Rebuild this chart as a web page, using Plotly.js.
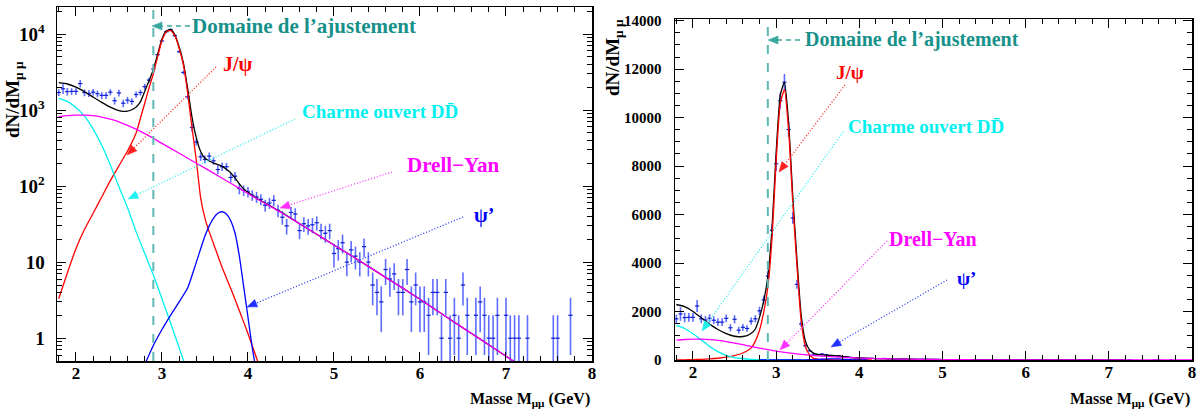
<!DOCTYPE html>
<html><head><meta charset="utf-8">
<script src="https://cdn.plot.ly/plotly-3.0.1.min.js"></script>
<style>html,body{margin:0;padding:0;background:#fff}</style>
</head><body><div id="c" style="width:1199px;height:414px"></div>
<script>
// ---------- data ----------
const dataX = [1.80,1.85,1.90,1.95,2.00,2.05,2.10,2.15,2.20,2.25,2.30,2.35,2.40,2.45,2.50,2.55,2.60,2.65,2.70,2.75,
  2.80,2.85,2.90,2.95,3.00,3.05,3.10,3.15,3.20,3.25,3.30,3.35,3.40,3.45,3.50,3.55,3.60,3.65,3.70,3.75,
  3.80,3.85,3.90,3.95,4.00,4.05,4.10,4.15,4.20,4.25,4.30,4.35,4.40,4.45,4.50,4.55,4.60,4.65,4.70,4.75,
  4.80,4.85,4.90,4.95,5.00,5.05,5.10,5.15,5.20,5.25,5.30,5.35,5.40,5.45,5.50,5.55,5.60,5.65,5.70,5.75,
  5.80,5.85,5.90,5.95,6.00,6.05,6.10,6.15,6.20,6.25,6.30,6.35,6.40,6.45,6.50,6.55,6.65,6.70,6.75,6.80,
  6.85,6.90,7.00,7.05,7.10,7.15,7.25,7.55,7.60,7.75];
const dataY = [1700,1900,1750,1760,1760,2230,1700,1650,1720,1640,1560,1560,1720,1330,1680,1230,1350,1300,1600,1700,
  2030,2480,3460,5350,8100,10700,11460,9510,5860,3120,1490,590,380,243,225,248,215,165,180,180,
  130,135,93,88,84,76,72,67,56,60,65,48,39,30,45,43,26,32,30,31,
  33,26,24,26,13,15,18,10,14.5,12,10,16,10,5,4,3,8,6,7,4,
  4,8,3,5,3,3,2,4,4,1,4,1,2,1,5,2,2,3,2,1,
  1,2,2,1,1,1,1,1,1,2];
const dataErr = [170,280,200,180,180,250,180,170,170,160,160,160,160,150,170,140,140,130,150,150,
  170,180,200,240,300,330,340,310,240,180,120,70,40,28,27,28,25,22,22,22,
  18,18,15,14,13,12,12,11,10,10,11,9,8,7,8,8,6,7,7,7,
  7,6,6,6,4.5,4.5,5,3.5,4.5,4,3.5,4.5,3.5,2.3,2,1.8,3,2.5,2.7,2,
  2,3,1.8,2.3,1.8,1.8,1.4,2,2,1,2,1,1.4,1,2.3,1.4,1.4,1.8,1.4,1,
  1,1.4,1.4,1,1,1,1,1,1,1.4];

const totX = [1.8,1.9,2.0,2.1,2.2,2.3,2.4,2.5,2.55,2.6,2.65,2.7,2.75,2.8,2.85,2.9,2.95,3.0,3.05,3.1,3.15,3.2,3.25,3.3,3.35,
  3.4,3.45,3.5,3.55,3.6,3.65,3.7,3.75,3.8,3.85,3.9,3.95,4.0,4.1,4.2,4.4,4.6,4.8,5.0,5.2,5.4,5.6,5.8,6.0,6.2,6.4,6.6,6.8,7.0,7.2];
const totY = [2290,2200,2000,1740,1480,1260,1090,980,960,970,1010,1100,1280,1760,2420,3430,5400,8570,10940,11460,9790,6770,4150,1885,800,
  430,285,232,214,201,192,182,166,149,128,107,92,83,69,60,44.5,32,23.3,16.8,12.2,8.8,6.3,4.55,3.25,2.3,1.62,1.15,0.82,0.58,0.41];

const dyX = [1.8,1.9,2.0,2.1,2.2,2.3,2.4,2.5,2.6,2.7,2.8,2.9,3.0,3.2,3.4,3.6,3.8,4.0,4.2,4.4,4.6,4.8,5.0,5.2,5.4,5.6,5.8,6.0,6.2,6.4,6.6,6.8,7.0,7.2,7.4,7.6,7.8,8.0];
const dyY = [817,845,858,858,842,808,760,700,630,560,490,425,365,270,200,148,109,80,59,44,32,23.3,16.8,12.2,8.8,6.3,4.55,3.25,2.3,1.62,1.15,0.82,0.58,0.41,0.29,0.21,0.15,0.105];

const charmX = [1.8,1.9,2.0,2.1,2.2,2.3,2.4,2.5,2.6,2.7,2.8,2.9,3.0,3.1,3.2,3.3];
const charmY = [1425,1300,1080,830,560,345,190,98,52,25,13,6.8,3.3,1.6,0.75,0.35];

const jpsiX = [1.8,1.9,2.0,2.1,2.2,2.3,2.4,2.5,2.6,2.7,2.75,2.8,2.85,2.9,2.95,3.0,3.05,3.1,3.15,3.2,3.25,3.3,3.35,3.4,3.45,3.5,3.55,3.6,3.7,3.8,3.9,4.0,4.1,4.15];
const jpsiY = [3.3,7.2,15,27,44,72,118,185,290,500,780,1230,1950,3000,5000,8200,10600,11150,9500,6500,3900,1650,580,218,70,38,25,17.5,8.5,4.5,2.3,1.15,0.55,0.38];

const psipX = [2.8,2.9,3.0,3.1,3.2,3.3,3.4,3.5,3.55,3.6,3.65,3.7,3.75,3.8,3.85,3.9,3.95,4.0,4.05,4.1];
const psipY = [0.45,0.8,1.3,2.0,3.0,4.6,10,22,30,38,44,46,43,35,24,12,4.8,1.9,0.75,0.35];

const fitLimit = 2.9;
const logTickVals = [1,10,100,1000,10000];
const logTickText = ['1','10','10<sup>2</sup>','10<sup>3</sup>','10<sup>4</sup>'];

// ---------- build ----------
const FONT = 'Liberation Serif';
const W = 1199, H = 414;
const px = v => v / W, py = v => 1 - v / H;

function panelTraces(xa, ya) {
  const t = [];
  t.push({x: dataX, y: dataY, xaxis: xa, yaxis: ya, type: 'scatter', mode: 'markers',
    marker: {size: 1, color: '#1020e0'},
    error_y: {type: 'data', array: dataErr, visible: true, width: 0, thickness: 1.6, color: 'rgba(40,60,255,0.75)'},
    error_x: {type: 'constant', value: 0.025, visible: true, width: 0, thickness: 1.2, color: '#1020d0'},
    hoverinfo: 'skip'});
  const curve = (x, y, c) => ({x, y, xaxis: xa, yaxis: ya, type: 'scatter', mode: 'lines',
    line: {color: c, width: 1.3, shape: 'spline', smoothing: 0.5}, hoverinfo: 'skip'});
  t.push(curve(totX, totY, '#000000'));
  t.push(curve(jpsiX, jpsiY, '#ff0000'));
  t.push(curve(charmX, charmY, '#00f0f0'));
  t.push(curve(psipX, psipY, '#0000ff'));
  t.push(curve(dyX, dyY, '#ff00ff'));
  return t;
}
const traces = panelTraces('x', 'y').concat(panelTraces('x2', 'y2'));

const minorLog = [];
[0.1, 1, 10, 100, 1000, 10000].forEach(d => { for (let k = 2; k <= 9; k++) minorLog.push(k * d); });

const axBase = {
  showline: true, linecolor: '#000', linewidth: 1.5, mirror: 'allticks',
  ticks: 'inside', ticklen: 9, tickwidth: 1, tickcolor: '#000',
  showgrid: false, zeroline: false, fixedrange: true,
  tickfont: {family: FONT, size: 17, color: '#000', weight: 'bold'}
};

const layout = {
  width: W, height: H, margin: {l: 0, r: 0, t: 0, b: 0},
  paper_bgcolor: '#fff', plot_bgcolor: '#fff', showlegend: false,
  font: {family: FONT},
  xaxis: Object.assign({}, axBase, {domain: [px(57), px(592)], anchor: 'y', range: [1.78, 8.0],
    tickmode: 'linear', tick0: 2, dtick: 1, ticklabelstandoff: -4,
    minor: {ticks: 'inside', ticklen: 5, tickcolor: '#000', tick0: 0, dtick: 0.2}}),
  yaxis: Object.assign({}, axBase, {domain: [py(361), py(7)], anchor: 'x', type: 'log', range: [-0.30, 4.355],
    tickmode: 'array', tickvals: logTickVals, ticktext: logTickText, ticklabelstandoff: 7,
    tickfont: {family: FONT, size: 19, color: '#000', weight: 'bold'},
    minor: {ticks: 'inside', ticklen: 5, tickcolor: '#000', tickmode: 'array', tickvals: minorLog}}),
  xaxis2: Object.assign({}, axBase, {domain: [px(675), px(1192)], anchor: 'y2', range: [1.784, 8.0],
    tickmode: 'linear', tick0: 2, dtick: 1, ticklabelstandoff: -4,
    minor: {ticks: 'inside', ticklen: 5, tickcolor: '#000', tick0: 0, dtick: 0.2}}),
  yaxis2: Object.assign({}, axBase, {domain: [py(360), py(19)], anchor: 'x2', range: [0, 14070],
    tickmode: 'linear', tick0: 0, dtick: 2000, ticklabelstandoff: 9, tickformat: 'd',
    tickfont: {family: FONT, size: 15, color: '#000', weight: 'bold'},
    minor: {ticks: 'inside', ticklen: 5, tickcolor: '#000', tick0: 0, dtick: 500}}),
  shapes: [], annotations: []
};

// vertical fit-limit lines
layout.shapes.push({type: 'line', xref: 'x', yref: 'y domain', x0: fitLimit, x1: fitLimit, y0: 0, y1: 1,
  line: {color: '#5fb8b3', dash: 'dash', width: 2}});
layout.shapes.push({type: 'line', xref: 'x2', yref: 'y2 domain', x0: fitLimit, x1: fitLimit, y0: 0, y1: 1,
  line: {color: '#5fb8b3', dash: 'dash', width: 2}});

function pointer(sx, sy, tx, ty, color, dash) {
  const dx = sx - tx, dy = sy - ty, L = Math.hypot(dx, dy);
  const ux = dx / L, uy = dy / L, nx = -uy, ny = ux;
  const hl = 10, hw = 4;
  layout.shapes.push({type: 'line', xref: 'paper', yref: 'paper', x0: px(sx), y0: py(sy), x1: px(tx + ux * hl * 0.8), y1: py(ty + uy * hl * 0.8),
    line: {color: color, width: 1.3, dash: dash || '1px,2px'}});
  const bx = tx + ux * hl, by = ty + uy * hl;
  const pts = [[tx, ty], [bx + nx * hw, by + ny * hw], [bx - nx * hw, by - ny * hw]];
  layout.shapes.push({type: 'path', xref: 'paper', yref: 'paper',
    path: 'M' + pts.map(p => px(p[0]) + ',' + py(p[1])).join('L') + 'Z',
    fillcolor: color, line: {color: color, width: 0.5}});
}
function label(x, y, text, color, size) {
  layout.annotations.push({xref: 'paper', yref: 'paper', x: px(x), y: py(y), xanchor: 'left', yanchor: 'middle',
    text: '<b>' + text + '</b>', showarrow: false, font: {family: FONT, size: size || 19, color: color}});
}
const TEAL = '#16918a', TEALA = '#3aa7a0';
// left panel labels
pointer(190, 26, 152, 26, TEALA, '5px,4px');
label(190, 26, 'Domaine de l’ajustement', TEAL, 21);
pointer(216, 67, 127, 155, '#ff2020');
label(221, 64, 'J/ψ', '#ff0000', 20);
pointer(295, 119, 128, 199, '#20f0f0');
label(300, 112, 'Charme ouvert DD\u0304', '#00f0f0');
pointer(392, 172, 280, 208, '#ff30ff');
label(405, 165, 'Drell−Yan', '#ff00ff', 21);
pointer(463, 217, 247, 307, '#2030ff');
label(472, 215, 'ψ’', '#0000ff', 20);
// right panel labels
pointer(800, 40, 768, 40, TEALA, '5px,4px');
label(803, 40, 'Domaine de l’ajustement', TEAL, 20);
pointer(845, 85, 779, 172, '#ff2020');
label(834, 72, 'J/ψ', '#ff0000');
pointer(843, 132, 702, 331, '#20f0f0');
label(846, 126, 'Charme ouvert DD\u0304', '#00f0f0');
pointer(887, 241, 780, 350, '#ff30ff');
label(887, 239, 'Drell−Yan', '#ff00ff', 20);
pointer(947, 280, 831, 347, '#2030ff');
label(955, 278, 'ψ’', '#0000ff');

// axis titles
[[592, 399], [1192, 399]].forEach(p => layout.annotations.push({xref: 'paper', yref: 'paper', x: px(p[0]), y: py(p[1]),
  xanchor: 'right', yanchor: 'middle', showarrow: false, text: '<b>Masse M<sub>μμ</sub> (GeV)</b>',
  font: {family: FONT, size: 16, color: '#000'}}));
[[14, 100], [614, 58]].forEach(p => layout.annotations.push({xref: 'paper', yref: 'paper', x: px(p[0]), y: py(p[1]),
  xanchor: 'center', yanchor: 'middle', showarrow: false, textangle: -90, text: '<b>dN/dM<sub>μ μ</sub></b>',
  font: {family: FONT, size: 19, color: '#000'}}));

Plotly.newPlot('c', traces, layout, {staticPlot: true, displayModeBar: false});
</script></body></html>
